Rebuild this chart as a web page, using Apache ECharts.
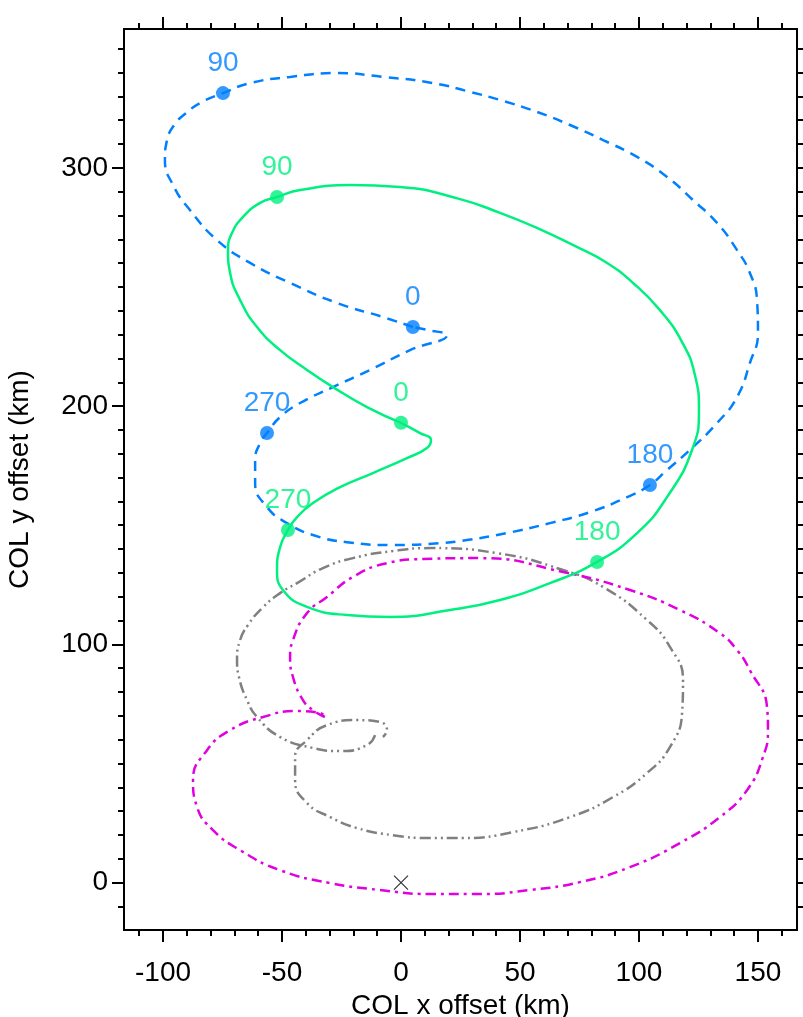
<!DOCTYPE html>
<html><head><meta charset="utf-8">
<script src="https://cdn.jsdelivr.net/npm/echarts@6/dist/echarts.min.js"></script>
<style>html,body{margin:0;padding:0;background:#fff}#c{width:803px;height:1017px}</style>
</head><body><div id="c"></div>
<script>
// ---- data (km) ----
const blueTrack = [
  [5.0,233.2],[-7.6,237.4],[-26.9,243.3],[-46.6,251.7],[-63.4,260.1],[-77.3,269.7],[-88.7,282.3],
  [-95.8,292.8],[-99.2,303.3],[-98.3,311.7],[-95.0,318.4],[-90.3,323.0],[-84.5,327.2],[-74.8,331.4],
  [-63.4,335.6],[-46.6,338.2],[-26.9,339.8],[-7.6,338.2],[13.4,335.6],[29.0,331.9],[41.6,328.5],
  [57.1,323.5],[71.0,318.0],[84.9,311.7],[99.2,304.6],[111.8,296.2],[122.7,286.5],[132.8,276.9],
  [141.2,265.5],[146.6,255.9],[149.6,244.5],[150.0,230.7],[146.6,218.1],[141.2,203.8],[132.8,192.9],
  [121.4,181.6],[111.8,173.2],[104.6,166.9],[95.0,161.8],[79.4,155.5],[62.6,150.9],[44.5,146.7],
  [27.7,143.8],[16.4,142.5],[-3.4,141.7],[-22.7,142.9],[-37.0,145.9],[-47.9,150.9],[-56.3,157.6],
  [-61.3,167.7],[-61.3,177.4],[-59.2,184.5],[-56.3,188.7],[-50.8,195.4],[-42.4,201.3],[-28.6,208.0],
  [-13.0,215.2],[3.8,223.5],[19.3,229.8],[10.9,232.0],[5.0,233.2]
];
const greenTrack = [
  [0,193.0],[-14.3,199.6],[-28.6,208.0],[-39.5,215.2],[-50.8,223.5],[-60.5,233.2],[-67.6,244.5],
  [-71.8,255.9],[-72.7,265.5],[-71.0,272.7],[-66.4,279.4],[-59.2,285.3],[-52.1,287.8],[-42.4,290.7],
  [-21.4,292.8],[-0.4,292.0],[24.8,286.9],[41.6,281.1],[57.1,274.8],[73.9,266.8],[86.6,260.1],
  [97.5,251.7],[108.8,240.3],[118.1,226.9],[123.5,213.1],[125.2,198.4],[122.3,181.6],[111.8,161.8],
  [99.2,146.7],[82.4,134.6],[62.6,125.7],[41.6,118.6],[20.6,114.4],[-4.6,111.5],[-22.7,112.3],
  [-39.5,115.7],[-49.6,122.8],[-52.1,131.2],[-50.8,140.8],[-47.5,148.0],[-43.7,153.4],[-37.0,159.3],
  [-25.6,166.0],[-11.8,171.9],[2.5,178.2],[10.9,182.4],[12.6,185.8],[8.0,188.7],[0,193.0]
];
const grayTrack = [
  [-10.9,61.9],[-14.3,57.7],[-25.6,55.2],[-37.0,56.5],[-50.8,61.1],[-60.5,69.5],[-64.7,76.6],
  [-68.1,86.3],[-68.9,93.4],[-67.6,101.8],[-64.3,108.1],[-58.4,115.2],[-50.8,121.5],[-43.7,125.7],
  [-32.8,132.0],[-20.2,136.2],[-3.4,139.2],[12.2,140.4],[40.3,138.3],[68.1,131.2],[84.9,124.1],
  [103.4,110.2],[113.0,98.9],[118.5,85.0],[118.1,71.2],[113.0,56.9],[103.4,46.0],[89.1,35.9],
  [71.0,27.5],[47.1,21.2],[26.1,18.7],[12.2,18.7],[-3.4,19.9],[-18.5,22.9],[-29.8,27.5],[-39.5,33.4],
  [-44.5,43.0],[-44.5,52.7],[-39.5,59.8],[-31.1,66.1],[-18.5,68.2],[-8.8,67.4],[-5.9,64.0],[-7.6,61.1]
];
const magentaTrack = [
  [-32.0,69.5],[-37.0,72.4],[-41.2,76.6],[-45.4,86.3],[-46.6,94.7],[-45.4,101.8],[-39.5,113.1],
  [-31.1,119.9],[-20.2,128.3],[-5.9,134.1],[9.2,135.8],[33.2,136.2],[68.1,130.4],[96.2,122.8],
  [117.2,114.4],[134.0,104.7],[141.2,97.6],[146.6,89.2],[153.8,73.7],[154.2,64.0],[152.1,52.7],
  [145.4,38.8],[134.0,27.5],[117.2,16.6],[96.2,6.5],[75.2,0.2],[54.2,-3.1],[33.2,-4.8],[12.2,-4.8],
  [-8.8,-3.1],[-29.8,-0.2],[-50.8,5.2],[-67.6,13.6],[-79.0,22.0],[-85.7,31.7],[-87.4,43.0],
  [-81.5,55.6],[-71.8,64.0],[-58.0,69.5],[-43.7,72.0],[-34.0,71.2],[-32.0,69.5]
];
const blueMarks = [[5.0,233.2,'0'],[-74.8,331.4,'90'],[104.6,166.9,'180'],[-56.3,188.7,'270']];
const greenMarks = [[0,193.0,'0'],[-52.1,287.8,'90'],[82.4,134.6,'180'],[-47.5,148.0,'270']];
const originMark = [[0,0]];
const xMajorTicks = [-100,-50,0,50,100,150];
const xMinorTicks = [-110,-100,-90,-80,-70,-60,-50,-40,-30,-20,-10,0,10,20,30,40,50,60,70,80,90,100,110,120,130,140,150,160];
const yMajorTicks = [0,100,200,300];
const yMinorTicks = [-10,0,10,20,30,40,50,60,70,80,90,100,110,120,130,140,150,160,170,180,190,200,210,220,230,240,250,260,270,280,290,300,310,320,330,340,350];

// ---- chart ----
const FONT = '"Liberation Sans", Arial, sans-serif';
const FS = 28;
const XR = [-116.4, 166.4], YR = [-19.9, 358.3];
const BLUE = '#0080ff', GREEN = '#00f080', GRAY = '#808080', MAG = '#e000e0';

function axis(kind, pos, ticks, len, labels, margin, extra) {
  const a = {
    type: 'value', position: pos, min: kind === 'x' ? XR[0] : YR[0], max: kind === 'x' ? XR[1] : YR[1],
    axisLine: { show: false, onZero: false },
    splitLine: { show: false },
    axisTick: { show: true, inside: false, length: len, customValues: ticks, lineStyle: { color: '#000', width: 2 } },
    axisLabel: labels ? { show: true, customValues: labels, color: '#000', fontSize: FS, fontFamily: FONT, margin: margin } : { show: false }
  };
  return Object.assign(a, extra || {});
}

const SMOOTH = 0.5;
const option = {
  animation: false,
  backgroundColor: '#fff',
  grid: { left: 124, right: 6, top: 29, bottom: 87, show: true, borderColor: '#000', borderWidth: 2,
          containLabel: false, outerBoundsMode: 'none' },
  xAxis: [
    axis('x', 'bottom', xMajorTicks, 12, xMajorTicks, 29, {
      name: 'COL x offset (km)', nameLocation: 'middle', nameGap: 60,
      nameTextStyle: { color: '#000', fontSize: FS, fontFamily: FONT }
    }),
    axis('x', 'bottom', xMinorTicks, 6, null),
    axis('x', 'top', xMajorTicks, 12, null),
    axis('x', 'top', xMinorTicks, 6, null)
  ],
  yAxis: [
    axis('y', 'left', yMajorTicks, 12, yMajorTicks, 16, {
      name: 'COL y offset (km)', nameLocation: 'middle', nameGap: 90,
      nameTextStyle: { color: '#000', fontSize: FS, fontFamily: FONT }
    }),
    axis('y', 'left', yMinorTicks, 6, null),
    axis('y', 'right', yMajorTicks, 12, null),
    axis('y', 'right', yMinorTicks, 6, null)
  ],
  series: [
    { type: 'line', data: grayTrack, smooth: SMOOTH, showSymbol: false, symbol: 'none',
      lineStyle: { color: GRAY, width: 2.5, type: [11, 4, 2, 4, 2, 4] }, z: 2 },
    { type: 'line', data: magentaTrack, smooth: SMOOTH, showSymbol: false, symbol: 'none',
      lineStyle: { color: MAG, width: 2.5, type: [10, 5, 3, 5] }, z: 2 },
    { type: 'line', data: blueTrack, smooth: SMOOTH, showSymbol: false, symbol: 'none',
      lineStyle: { color: BLUE, width: 2.5, type: [10, 7] }, z: 3 },
    { type: 'line', data: greenTrack, smooth: SMOOTH, showSymbol: false, symbol: 'none',
      lineStyle: { color: GREEN, width: 2.5, type: 'solid' }, z: 3 },
    { type: 'scatter', data: blueMarks, symbolSize: 14, itemStyle: { color: BLUE }, z: 5,
      label: { show: true, position: 'top', distance: 9, color: BLUE, fontSize: FS, fontFamily: FONT,
        formatter: p => p.data[2] } },
    { type: 'scatter', data: greenMarks, symbolSize: 14, itemStyle: { color: GREEN }, z: 5,
      label: { show: true, position: 'top', distance: 9, color: GREEN, fontSize: FS, fontFamily: FONT,
        formatter: p => p.data[2] } },
    { type: 'scatter', data: originMark, symbol: 'path://M0,0L10,10M10,0L0,10', symbolSize: 14,
      itemStyle: { color: 'none', borderColor: '#000', borderWidth: 1.2 }, z: 5 }
  ]
};
const chart = echarts.init(document.getElementById('c'));
chart.setOption(option);
</script></body></html>
